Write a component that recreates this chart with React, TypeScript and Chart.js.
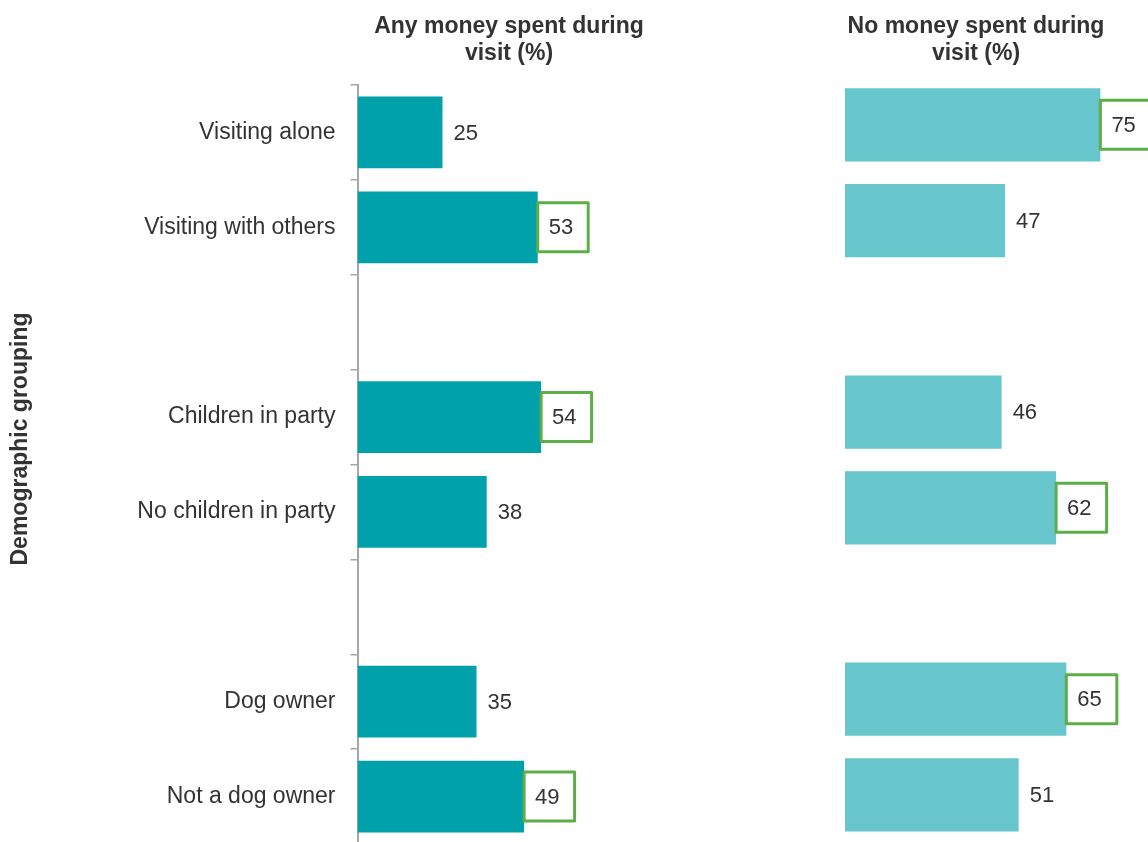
import React, { useEffect, useRef } from "react";
import { Chart, registerables } from "chart.js";

Chart.register(...registerables);

const categories = [
  "Visiting alone",
  "Visiting with others",
  "",
  "Children in party",
  "No children in party",
  "",
  "Dog owner",
  "Not a dog owner",
];
const anySpent: (number | null)[] = [25, 53, null, 54, 38, null, 35, 49];
const noSpent: (number | null)[] = [75, 47, null, 46, 62, null, 65, 51];
const anyHighlight = [false, true, false, true, false, false, false, true];
const noHighlight = [true, false, false, false, true, false, true, false];
const leftTitle = ["Any money spent during", "visit (%)"];
const rightTitle = ["No money spent during", "visit (%)"];
const yTitle = "Demographic grouping";

const FONT = "'Liberation Sans', Arial, Helvetica, sans-serif";
const TEXT = "#333333";
const GREEN = "#5DAE47";
const AXIS = "#A6A6A6";

function valuePlugin(values: (number | null)[], flags: boolean[]) {
  return {
    id: "valueLabels",
    afterDatasetsDraw(chart: any) {
      const ctx = chart.ctx;
      const meta = chart.getDatasetMeta(0);
      ctx.save();
      ctx.font = `22px ${FONT}`;
      ctx.textBaseline = "middle";
      ctx.textAlign = "left";
      meta.data.forEach((bar: any, i: number) => {
        const v = values[i];
        if (v == null) return;
        const x = bar.x;
        const y = bar.y;
        if (flags[i]) {
          ctx.fillStyle = "#ffffff";
          ctx.fillRect(x, y - 24.5, 50.5, 49);
          ctx.strokeStyle = GREEN;
          ctx.lineWidth = 3;
          ctx.lineJoin = "round";
          ctx.strokeRect(x, y - 24.5, 50.5, 49);
        }
        ctx.fillStyle = TEXT;
        ctx.fillText(String(v), x + 11, y + 1);
      });
      ctx.restore();
    },
  };
}

function titlePlugin(lines: string[], cx: number, withY: boolean) {
  return {
    id: "panelTitles",
    afterDraw(chart: any) {
      const ctx = chart.ctx;
      ctx.save();
      ctx.fillStyle = TEXT;
      ctx.font = `bold 23px ${FONT}`;
      ctx.textAlign = "center";
      ctx.textBaseline = "alphabetic";
      lines.forEach((l, i) => ctx.fillText(l, cx, 33 + i * 27));
      if (withY) {
        ctx.translate(27, 439);
        ctx.rotate(-Math.PI / 2);
        ctx.fillText(yTitle, 0, 0);
      }
      ctx.restore();
    },
  };
}

function makeOptions(showAxis: boolean, padding: any, barPct: number) {
  return {
    indexAxis: "y" as const,
    responsive: false,
    animation: false as const,
    devicePixelRatio: 1,
    layout: { padding },
    plugins: { legend: { display: false }, tooltip: { enabled: false }, title: { display: false } },
    datasets: { bar: { categoryPercentage: 1, barPercentage: barPct } },
    scales: {
      x: { display: false, min: 0, max: 100 },
      y: showAxis
        ? {
            display: true,
            afterFit: (s: any) => {
              s.width = 357.5;
            },
            grid: {
              display: true,
              drawOnChartArea: false,
              drawTicks: true,
              tickLength: 7,
              color: AXIS,
              lineWidth: 1.5,
              offset: true,
            },
            border: { display: true, color: AXIS, width: 2 },
            ticks: {
              padding: 15,
              color: TEXT,
              autoSkip: false,
              font: { family: FONT, size: 23 },
            },
          }
        : { display: false },
    },
  };
}

export default function App() {
  const leftRef = useRef<HTMLCanvasElement>(null);
  const rightRef = useRef<HTMLCanvasElement>(null);

  useEffect(() => {
    const left = new Chart(leftRef.current!, {
      type: "bar",
      data: {
        labels: categories,
        datasets: [{ data: anySpent, backgroundColor: "#00A1AB", borderWidth: 0 }],
      },
      options: makeOptions(true, { left: 0, top: 85, right: 22.5, bottom: 40 }, 0.755) as any,
      plugins: [valuePlugin(anySpent, anyHighlight), titlePlugin(leftTitle, 509, true)],
    });
    const right = new Chart(rightRef.current!, {
      type: "bar",
      data: {
        labels: categories,
        datasets: [{ data: noSpent, backgroundColor: "#67C6CC", borderWidth: 0 }],
      },
      options: makeOptions(false, { left: 45, top: 77, right: 14.5, bottom: 7.2 }, 0.765) as any,
      plugins: [valuePlugin(noSpent, noHighlight), titlePlugin(rightTitle, 176, false)],
    });
    return () => {
      left.destroy();
      right.destroy();
    };
  }, []);

  return (
    <div
      style={{
        position: "fixed",
        left: 0,
        top: 0,
        width: 1148,
        height: 842,
        overflow: "hidden",
        background: "#ffffff",
      }}
    >
      <canvas
        ref={leftRef}
        width={720}
        height={884}
        style={{ position: "absolute", left: 0, top: 0, width: 720, height: 884 }}
      />
      <canvas
        ref={rightRef}
        width={400}
        height={850}
        style={{ position: "absolute", left: 800, top: 0, width: 400, height: 850 }}
      />
    </div>
  );
}
